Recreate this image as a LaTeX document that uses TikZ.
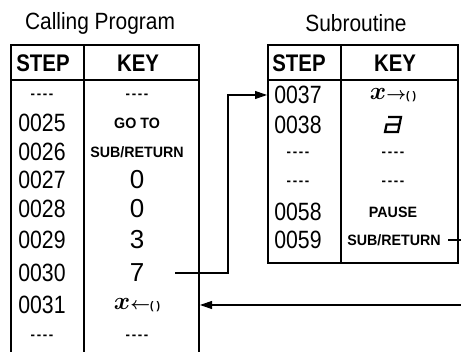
\documentclass[tikz,border=0pt]{standalone}
\usepackage{fontspec}
\usepackage{bm}
\usetikzlibrary{arrows.meta}
\setmainfont{Liberation Sans}[FakeStretch=0.85]
\newfontfamily\titlefont{Liberation Sans}[FakeStretch=0.89]
\newfontfamily\digitfont{Liberation Sans}
\newfontfamily\keyfont{Liberation Sans}[FakeStretch=0.95]
\tikzset{
  tbl/.style={line width=1.8pt},
  conn/.style={line width=1.1pt},
  tip/.style={-{Triangle[length=12pt,width=8pt]}},
  ttl/.style={inner sep=0pt,font=\titlefont\fontsize{23.5}{23.5}\selectfont},
  hdr/.style={inner sep=0pt,font=\bfseries\fontsize{24}{24}\selectfont},
  stepnum/.style={inner sep=0pt,font=\fontsize{25}{25}\selectfont},
  keydig/.style={inner sep=0pt,font=\digitfont\fontsize{26}{26}\selectfont},
  keylbl/.style={inner sep=0pt,font=\keyfont\bfseries\fontsize{15}{15}\selectfont},
  dashes/.style={inner sep=0pt,font=\keyfont\bfseries\fontsize{14}{14}\selectfont},
  sym/.style={inner sep=0pt}
}
\newcommand{\dsh}{-\kern1.6pt-\kern1.6pt-\kern1.6pt-}
\begin{document}
\begin{tikzpicture}[x=1pt,y=-1pt]
\useasboundingbox (0,0) rectangle (461,352);
% titles
\node[ttl] (t1) at (100,23) {Calling Program};
\node[ttl] (t2) at (356,23) {Subroutine};
% calling table
\draw[tbl] (11,352) -- (11,45) -- (199,45) -- (199,352);
\draw[tbl] (11,80) -- (199,80);
\draw[tbl] (84,45) -- (84,352);
% subroutine table
\draw[tbl] (268,45) rectangle (458,263);
\draw[tbl] (268,80) -- (458,80);
\draw[tbl] (341,45) -- (341,263);
% headers
\node[hdr] (h1) at (43,63) {STEP};
\node[hdr] (h2) at (138,63) {KEY};
\node[hdr] (h3) at (299,63) {STEP};
\node[hdr] (h4) at (395,63) {KEY};
% calling rows
\node[dashes] (c0s) at (42,96) {\dsh};
\node[dashes] (c0k) at (137,96) {\dsh};
\node[stepnum] (c25) at (42,123) {0025};
\node[keylbl] (k25) at (137,123) {GO TO};
\node[stepnum] (c26) at (42,152) {0026};
\node[keylbl] (k26) at (137,152) {SUB/RETURN};
\node[stepnum] (c27) at (42,180) {0027};
\node[keydig] (k27) at (137,180) {0};
\node[stepnum] (c28) at (42,209) {0028};
\node[keydig] (k28) at (137,209) {0};
\node[stepnum] (c29) at (42,240) {0029};
\node[keydig] (k29) at (137,240) {3};
\node[stepnum] (c30) at (42,273) {0030};
\node[keydig] (k30) at (137,273) {7};
\node[stepnum] (c31) at (42,305) {0031};
\node[sym] (k31) at (137,305) {\fontsize{25}{25}\selectfont$\bm{x}$\fontsize{18}{18}\selectfont$\bm{\leftarrow}$\keyfont\bfseries\fontsize{11}{11}\selectfont( )};
\node[dashes] (c9s) at (42,337) {\dsh};
\node[dashes] (c9k) at (137,337) {\dsh};
% subroutine rows
\node[stepnum] (s37) at (298,95) {0037};
\node[sym] (k37) at (393,95) {\fontsize{25}{25}\selectfont$\bm{x}$\fontsize{18}{18}\selectfont$\bm{\rightarrow}$\keyfont\bfseries\fontsize{11}{11}\selectfont( )};
\node[stepnum] (s38) at (298,125) {0038};
\draw[line width=2.2pt,line join=miter] (388,117) -- (401,117) -- (398,132) -- (385,132) -- (386.6,124.5) -- (399.5,124.5);
\node[dashes] (s1s) at (298,154) {\dsh};
\node[dashes] (s1k) at (393,154) {\dsh};
\node[dashes] (s2s) at (298,183) {\dsh};
\node[dashes] (s2k) at (393,183) {\dsh};
\node[stepnum] (s58) at (298,212) {0058};
\node[keylbl] (k58) at (393,212) {PAUSE};
\node[stepnum] (s59) at (298,240) {0059};
\node[keylbl] (k59) at (394,240) {SUB/RETURN};
% connectors
\coordinate (go) at (175,273);
\coordinate (in37) at (267,95);
\draw[conn,tip] (go) -- (228,273) |- (in37);
\coordinate (ret) at (448,240);
\coordinate (rete) at (461,240);
\draw[conn] (ret) -- (rete);
\coordinate (back) at (461,305);
\coordinate (in31) at (200,305);
\draw[conn,tip] (back) -- (in31);
\end{tikzpicture}
\end{document}
